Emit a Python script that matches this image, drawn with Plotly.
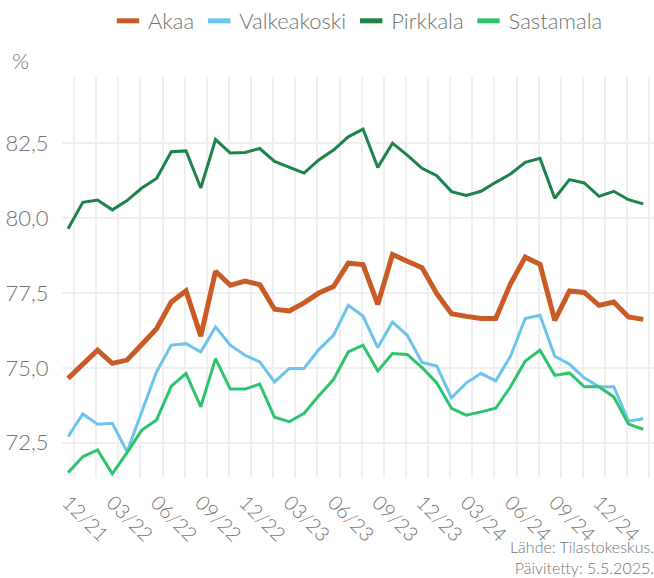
import plotly.graph_objects as go

months = ["12/21", "01/22", "02/22", "03/22", "04/22", "05/22", "06/22", "07/22", "08/22", "09/22",
          "10/22", "11/22", "12/22", "01/23", "02/23", "03/23", "04/23", "05/23", "06/23", "07/23",
          "08/23", "09/23", "10/23", "11/23", "12/23", "01/24", "02/24", "03/24", "04/24", "05/24",
          "06/24", "07/24", "08/24", "09/24", "10/24", "11/24", "12/24", "01/25", "02/25", "03/25"]

tick_labels = ["12/21", "03/22", "06/22", "09/22", "12/22", "03/23", "06/23", "09/23",
               "12/23", "03/24", "06/24", "09/24", "12/24"]

akaa = [74.65, 75.15, 75.59, 75.15, 75.26, 75.78, 76.31, 77.2, 77.57, 76.06,
        78.23, 77.76, 77.9, 77.78, 76.96, 76.9, 77.17, 77.5, 77.72, 78.5,
        78.45, 77.12, 78.79, 78.56, 78.35, 77.48, 76.81, 76.72, 76.65, 76.65,
        77.81, 78.7, 78.46, 76.59, 77.57, 77.52, 77.09, 77.2, 76.7, 76.62]

valkeakoski = [72.7, 73.46, 73.12, 73.15, 72.2, 73.53, 74.87, 75.76, 75.81, 75.53,
               76.37, 75.76, 75.42, 75.2, 74.53, 74.98, 74.98, 75.61, 76.09, 77.09,
               76.73, 75.68, 76.53, 76.09, 75.18, 75.06, 74.0, 74.5, 74.81, 74.57,
               75.39, 76.65, 76.76, 75.39, 75.12, 74.67, 74.37, 74.37, 73.22, 73.3]

pirkkala = [79.65, 80.53, 80.61, 80.28, 80.59, 81.01, 81.33, 82.22, 82.25, 81.01,
            82.63, 82.18, 82.2, 82.33, 81.9, 81.7, 81.51, 81.95, 82.28, 82.72,
            82.98, 81.7, 82.51, 82.11, 81.67, 81.42, 80.89, 80.76, 80.9, 81.2,
            81.48, 81.87, 82.0, 80.67, 81.29, 81.18, 80.73, 80.9, 80.62, 80.48]

sastamala = [71.5, 72.03, 72.26, 71.46, 72.17, 72.92, 73.26, 74.39, 74.81, 73.7,
             75.31, 74.29, 74.29, 74.46, 73.35, 73.2, 73.48, 74.07, 74.61, 75.53,
             75.76, 74.9, 75.48, 75.45, 75.01, 74.5, 73.65, 73.42, 73.53, 73.65,
             74.37, 75.23, 75.59, 74.75, 74.83, 74.37, 74.37, 74.03, 73.12, 72.95]

x = list(range(len(months)))
FONT = "Lato"
GRAY = "#737373"
GRID = "#EFEFEF"

series = [
    ("Akaa", akaa, "#C95B26", 5),
    ("Valkeakoski", valkeakoski, "#6CC4EC", 3),
    ("Pirkkala", pirkkala, "#1D8348", 3),
    ("Sastamala", sastamala, "#2EC46E", 3),
]

fig = go.Figure()
for name, vals, color, w in series:
    fig.add_trace(go.Scatter(x=x, y=vals, name=name, mode="lines",
                             line=dict(color=color, width=w), showlegend=False,
                             hovertemplate="%{y:.1f}<extra>" + name + "</extra>"))
# legend keys (short thick bars like the reference)
for name, vals, color, w in series:
    fig.add_trace(go.Scatter(x=[None], y=[None], name=name, mode="markers",
                             marker=dict(symbol="line-ew", size=20,
                                         line=dict(color=color, width=6)),
                             showlegend=True, hoverinfo="skip"))

fig.update_layout(
    width=654, height=578,
    margin=dict(l=62, r=0, t=76, b=100),
    paper_bgcolor="white", plot_bgcolor="white",
    separators=", ",
    font=dict(family=FONT, size=19, color=GRAY, weight=300),
    showlegend=True,
    legend=dict(orientation="h", x=0.5, xanchor="center", y=1.139, yanchor="middle",
                font=dict(family=FONT, size=22, color=GRAY, weight=300),
                itemsizing="trace", tracegroupgap=0),
    xaxis=dict(
        range=[-0.41, 39.73],
        tickmode="array",
        tickvals=[months.index(t) for t in tick_labels],
        ticktext=tick_labels,
        tickangle=45,
        showgrid=False,
        zeroline=False,
        showline=False,
        ticks="outside", ticklen=4, tickcolor="rgba(0,0,0,0)",
        tickfont=dict(family=FONT, size=20, color=GRAY, weight=300),
        minor=dict(tick0=0.41, dtick=1.5, showgrid=True, gridcolor=GRID, gridwidth=2, ticks=""),
    ),
    yaxis=dict(
        range=[71.32, 84.72],
        tickmode="linear", tick0=72.5, dtick=2.5,
        tickformat=".1f",
        showgrid=True, gridcolor=GRID, gridwidth=2,
        zeroline=False, showline=False,
        ticks="outside", ticklen=8, tickcolor="rgba(0,0,0,0)",
        tickfont=dict(family=FONT, size=22, color=GRAY, weight=300),
    ),
    annotations=[
        dict(text="%", xref="paper", yref="paper", x=-0.088, y=1.04,
             xanchor="left", yanchor="middle", showarrow=False,
             font=dict(family=FONT, size=22, color=GRAY, weight=300)),
        dict(text="Lähde: Tilastokeskus.<br>Päivitetty: 5.5.2025.", xref="paper", yref="paper",
             x=1, y=-0.197, xanchor="right", yanchor="middle", align="right", showarrow=False,
             xshift=2,
             font=dict(family=FONT, size=16, color=GRAY, weight=300)),
    ],
)

fig.write_html("out.html", config={"displayModeBar": False},
               post_script="document.body.style.margin='0';document.body.style.overflow='hidden';")
